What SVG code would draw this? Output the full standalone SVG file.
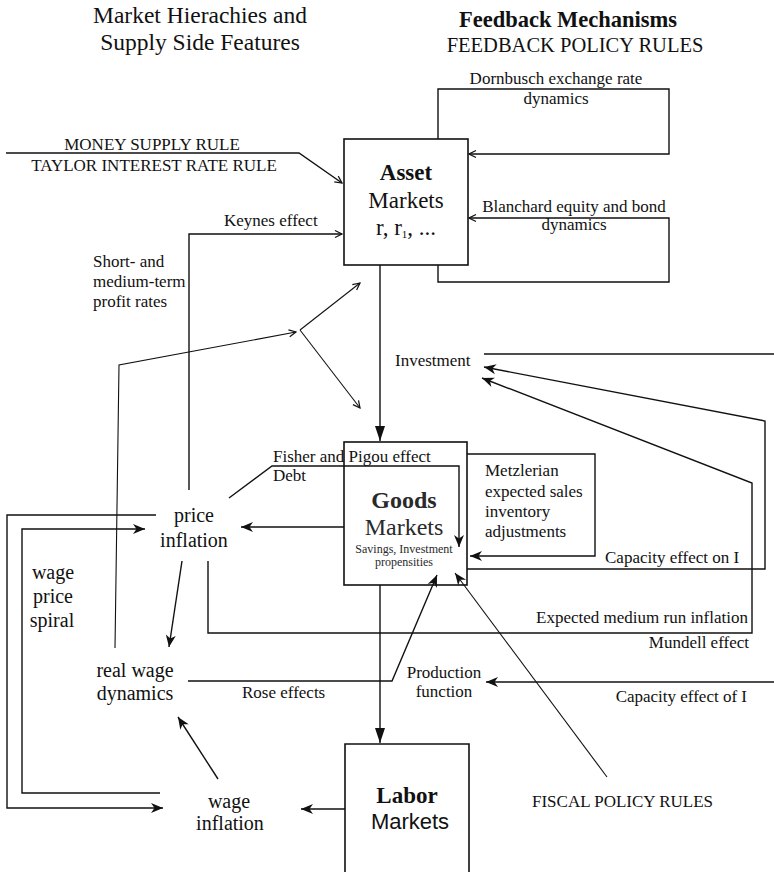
<svg xmlns="http://www.w3.org/2000/svg" width="774" height="872" viewBox="0 0 774 872">
<style>
.ln{fill:none;stroke:#111;stroke-width:1.4}
.th{fill:none;stroke:#111;stroke-width:1.1}
.box{fill:none;stroke:#111;stroke-width:1.6}
text{font-family:"Liberation Serif","Times New Roman",serif;fill:#111}
.s17{font-size:17px}
.s20{font-size:20px}
.mid{text-anchor:middle}
.end{text-anchor:end}
.g{fill:#2a2a2a}
</style>
<defs>
<marker id="fa" markerUnits="userSpaceOnUse" markerWidth="16" markerHeight="14" viewBox="-14 -7 15 14" refX="0" refY="0" orient="auto"><path d="M0,0 L-12,-5 L-8.5,0 L-12,5 Z" fill="#111"/></marker>
<marker id="ft" markerUnits="userSpaceOnUse" markerWidth="18" markerHeight="14" viewBox="-16 -7 17 14" refX="0" refY="0" orient="auto"><path d="M0,0 L-15,-5 L-15,5 Z" fill="#111"/></marker>
<marker id="oa" markerUnits="userSpaceOnUse" markerWidth="12" markerHeight="12" viewBox="-10 -6 11 12" refX="0" refY="0" orient="auto"><path d="M-7,-3.5 L0,0 L-7,3.5" fill="none" stroke="#111" stroke-width="1.2"/></marker>
</defs>

<g id="titles">
<text class="mid" x="200" y="23" font-size="23.5">Market Hierachies and</text>
<text class="mid" x="200" y="50" font-size="23.5">Supply Side Features</text>
<text class="mid" x="568" y="27" font-size="22.5" font-weight="bold">Feedback Mechanisms</text>
<text class="mid" x="575" y="52" font-size="20.5">FEEDBACK POLICY RULES</text>
</g>

<g id="asset-markets">
<rect class="box" x="344" y="139" width="124" height="126"/>
<text class="mid" x="406" y="180" font-size="23" font-weight="bold">Asset</text>
<text class="mid" x="406" y="208" font-size="23">Markets</text>
<text class="mid" x="406" y="235" font-size="23">r, r<tspan font-size="11" dy="3">1</tspan><tspan dy="-3">, ...</tspan></text>
</g>

<g id="goods-markets">
<rect class="box" x="344" y="442" width="123" height="143"/>
<text class="mid g" x="404" y="508" font-size="24" font-weight="bold">Goods</text>
<text class="mid g" x="404" y="535" font-size="24">Markets</text>
<text class="mid g" x="404" y="553" font-size="12">Savings, Investment</text>
<text class="mid g" x="404" y="566" font-size="12">propensities</text>
</g>

<g id="labor-markets">
<path class="box" d="M345,872 V744 H469 V872"/>
<text class="mid" x="407" y="803" font-size="23" font-weight="bold">Labor</text>
<text class="mid" x="410" y="829" font-size="22" style="font-family:'Liberation Sans',Arial,sans-serif">Markets</text>
</g>

<g id="price-inflation">
<text class="mid s20" x="194" y="522">price</text>
<text class="mid s20" x="194" y="547">inflation</text>
</g>

<g id="real-wage-dynamics">
<text class="mid s20" x="135" y="677">real wage</text>
<text class="mid s20" x="135" y="700">dynamics</text>
</g>

<g id="wage-inflation">
<text class="mid s20" x="229" y="808">wage</text>
<text class="mid s20" x="230" y="830">inflation</text>
</g>

<g id="investment">
<text class="s17" x="395" y="366">Investment</text>
</g>

<g id="production-function">
<text class="mid s17" x="444" y="678">Production</text>
<text class="mid s17" x="444" y="697">function</text>
</g>

<g id="connectors">
<path class="ln" d="M6,153 H299 L342,183" marker-end="url(#oa)"/>
<path class="ln" d="M438,139 V89 H669 V154 H469" marker-end="url(#oa)"/>
<path class="ln" d="M438,265 V282 H669 V218 H469" marker-end="url(#oa)"/>
<path class="ln" d="M189,490 V234 H342" marker-end="url(#oa)"/>
<path class="th" d="M115,648 L119,365 L296,332" marker-end="url(#oa)"/>
<path class="th" d="M300,330 L360,283" marker-end="url(#oa)"/>
<path class="th" d="M300,330 L360,408" marker-end="url(#oa)"/>
<path class="ln" d="M380,265 V441" marker-end="url(#ft)"/>
<path class="ln" d="M484,354 H774"/>
<path class="ln" d="M467,569 H765 V421 L484,367" marker-end="url(#fa)"/>
<path class="ln" d="M208,561 V633 H752 V483 L482,378" marker-end="url(#fa)"/>
<path class="ln" d="M467,454 H595 V556 H470" marker-end="url(#fa)"/>
<path class="ln" d="M229,498 L272,466 H459 V547" marker-end="url(#fa)"/>
<path class="ln" d="M344,527 H241" marker-end="url(#fa)"/>
<path class="ln" d="M182,561 L169,647" marker-end="url(#fa)"/>
<path class="ln" d="M188,681 H392 L437,575" marker-end="url(#fa)"/>
<path class="th" d="M607,777 L455,573" marker-end="url(#fa)"/>
<path class="ln" d="M774,682 H486" marker-end="url(#fa)"/>
<path class="ln" d="M380,585 V743" marker-end="url(#ft)"/>
<path class="ln" d="M345,809 H301" marker-end="url(#fa)"/>
<path class="ln" d="M218,779 L178,717" marker-end="url(#fa)"/>
<path class="ln" d="M156,515 H7 V808 H163" marker-end="url(#fa)"/>
<path class="ln" d="M160,793 H22 V529 H145" marker-end="url(#fa)"/>
</g>

<g id="labels">
<text class="mid s17" x="152" y="150">MONEY SUPPLY RULE</text>
<text class="mid s17" x="154" y="171">TAYLOR INTEREST RATE RULE</text>
<text class="mid s17" x="556" y="84">Dornbusch exchange rate</text>
<text class="mid s17" x="556" y="104">dynamics</text>
<text class="mid s17" x="574" y="212">Blanchard equity and bond</text>
<text class="mid s17" x="574" y="230">dynamics</text>
<text class="s17" x="224" y="226">Keynes effect</text>
<text class="s17" x="93" y="267">Short- and</text>
<text class="s17" x="93" y="287">medium-term</text>
<text class="s17" x="93" y="307">profit rates</text>
<text class="s17" x="273" y="462">Fisher and Pigou effect</text>
<text class="s17" x="273" y="481">Debt</text>
<text class="s17" x="485" y="476">Metzlerian</text>
<text class="s17" x="485" y="497">expected sales</text>
<text class="s17" x="485" y="517">inventory</text>
<text class="s17" x="485" y="537">adjustments</text>
<text class="s17" x="605" y="563">Capacity effect on I</text>
<text class="end s17" x="748" y="623">Expected medium run inflation</text>
<text class="end s17" x="749" y="648">Mundell effect</text>
<text class="end s17" x="747" y="702">Capacity effect of I</text>
<text class="s17" x="242" y="698">Rose effects</text>
<text class="mid s20" x="53" y="579">wage</text>
<text class="mid s20" x="53" y="603">price</text>
<text class="mid s20" x="52" y="627">spiral</text>
<text class="s17" x="532" y="807">FISCAL POLICY RULES</text>
</g>
</svg>
